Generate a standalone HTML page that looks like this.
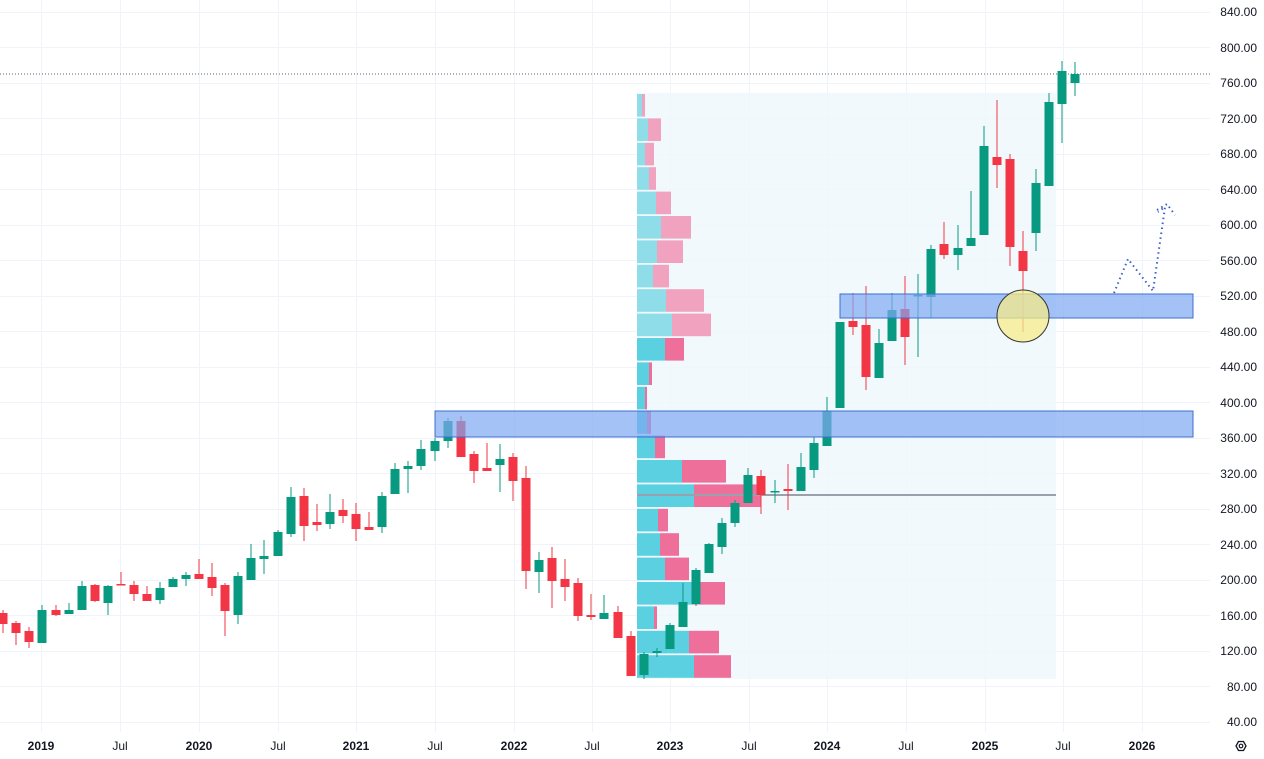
<!DOCTYPE html>
<html><head><meta charset="utf-8"><style>
html,body{margin:0;padding:0;background:#fff;}
svg{display:block;font-family:"Liberation Sans","DejaVu Sans",sans-serif;}
</style></head><body>
<svg id="s" width="1264" height="759" viewBox="0 0 1264 759" xmlns="http://www.w3.org/2000/svg">
<g id="grid" stroke="#f0f3fa" stroke-width="1"></g>
<rect x="637" y="93" width="419" height="586" fill="#eef8fc" opacity="0.8"/>
<g id="vp"></g>
<line x1="637" y1="495" x2="1056" y2="495" stroke="#9aa1ac" stroke-width="2"/>
<line x1="0" y1="74" x2="1210" y2="74" stroke="#5a6473" stroke-width="1" stroke-dasharray="1,2"/>
<g id="candles"></g>
<rect x="435" y="411" width="758" height="26" fill="#7fa8f2" fill-opacity="0.7" stroke="#3d6fcf" stroke-width="1"/>
<rect x="840" y="294" width="353" height="24" fill="#7fa8f2" fill-opacity="0.7" stroke="#3d6fcf" stroke-width="1"/>
<circle cx="1023" cy="316" r="26" fill="#f5eb8a" fill-opacity="0.75" stroke="#333" stroke-width="1"/>
<polyline points="1114,293 1128,259 1153,291 1165,207 1158,212 M0,0" fill="none" stroke="#3d5fc4" stroke-width="2" stroke-dasharray="1.5,3.5"/>
<polyline points="1157,210 1167,204 1175,215" fill="none" stroke="#3d5fc4" stroke-width="2" stroke-dasharray="1.5,3.5"/>
<g font-size="12" fill="#131722" text-anchor="end">
<text x="1257" y="16">840.00</text><text x="1257" y="52">800.00</text><text x="1257" y="87">760.00</text>
<text x="1257" y="123">720.00</text><text x="1257" y="158">680.00</text><text x="1257" y="194">640.00</text>
<text x="1257" y="229">600.00</text><text x="1257" y="265">560.00</text><text x="1257" y="300">520.00</text>
<text x="1257" y="336">480.00</text><text x="1257" y="371">440.00</text><text x="1257" y="407">400.00</text>
<text x="1257" y="442">360.00</text><text x="1257" y="478">320.00</text><text x="1257" y="513">280.00</text>
<text x="1257" y="549">240.00</text><text x="1257" y="584">200.00</text><text x="1257" y="620">160.00</text>
<text x="1257" y="655">120.00</text><text x="1257" y="691">80.00</text><text x="1257" y="726">40.00</text>
</g>
<g font-size="12" fill="#131722" text-anchor="middle">
<text x="41" y="750" font-weight="bold">2019</text><text x="120" y="750">Jul</text>
<text x="199" y="750" font-weight="bold">2020</text><text x="278" y="750">Jul</text>
<text x="356" y="750" font-weight="bold">2021</text><text x="435" y="750">Jul</text>
<text x="514" y="750" font-weight="bold">2022</text><text x="592" y="750">Jul</text>
<text x="670" y="750" font-weight="bold">2023</text><text x="749" y="750">Jul</text>
<text x="827" y="750" font-weight="bold">2024</text><text x="906" y="750">Jul</text>
<text x="985" y="750" font-weight="bold">2025</text><text x="1063" y="750">Jul</text>
<text x="1142" y="750" font-weight="bold">2026</text>
</g>
<polygon points="1236,746 1238.5,741.5 1243.5,741.5 1246,746 1243.5,750.5 1238.5,750.5" fill="none" stroke="#131722" stroke-width="1.3"/>
<circle cx="1241" cy="746" r="1.8" fill="none" stroke="#131722" stroke-width="1.2"/>
</svg>
<script>
var NS="http://www.w3.org/2000/svg";
function el(p,t,a){var e=document.createElementNS(NS,t);for(var k in a)e.setAttribute(k,a[k]);p.appendChild(e);return e;}
var g=document.getElementById('grid');
var ys=[12,47,83,118,154,189,225,260,296,331,367,402,438,473,509,544,580,615,651,686,722];
ys.forEach(function(y){el(g,'line',{x1:0,x2:1210,y1:y+0.5,y2:y+0.5});});
[41,120,199,278,356,435,514,592,670,749,827,906,985,1063,1142].forEach(function(x){el(g,'line',{x1:x+0.5,x2:x+0.5,y1:0,y2:732});});
var vp=document.getElementById('vp');
var rows=[[642,645],[648,661],[645,654],[649,656],[656,671],[661,691],[657,683],[653,669],[666,704],[672,711],
[665,684],[649,652],[645,647],[647,651],[655,665],[682,726],[694,761],[658,668],[660,679],[665,689],[692,725],[654,657],[689,719],[694,731]];
rows.forEach(function(r,i){var y=93+i*24.4;var light=i<10;
el(vp,'rect',{x:637,y:y+1,width:r[0]-637,height:22.6,fill:light?'#8fdde9':'#5bd0e0'});
el(vp,'rect',{x:r[0],y:y+1,width:r[1]-r[0],height:22.6,fill:light?'#f0a2bf':'#ee6f9a'});});
var C=[[3,613,624,610,633,'r'],[16,623,633,621,645,'r'],[29,631,642,627,648,'r'],[42,610,643,605,643,'g'],[56,610,615,605,616,'r'],
[69,610,614,603,614,'g'],[82,586,610,581,610,'g'],[95,585,601,584,602,'r'],[108,586,603,585,615,'g'],[121,584,585,572,585,'r'],
[134,585,594,581,601,'r'],[147,594,601,586,601,'r'],[160,588,600,582,604,'g'],[173,579,587,577,587,'g'],[186,575,579,572,586,'g'],
[199,574,579,559,579,'r'],[212,577,588,563,596,'r'],[225,585,611,583,636,'r'],[238,576,615,572,624,'g'],[251,558,580,544,580,'g'],
[264,556,559,540,574,'g'],[278,532,556,530,556,'g'],[291,497,534,487,537,'g'],[304,496,526,488,541,'r'],[317,522,525,504,531,'r'],
[330,512,524,494,529,'g'],[343,510,516,499,523,'r'],[356,514,529,503,541,'r'],[369,527,530,512,530,'r'],[382,496,527,492,533,'g'],
[395,469,494,463,494,'g'],[408,466,469,461,493,'g'],[421,449,466,440,470,'g'],[435,441,451,438,461,'g'],[448,421,441,418,448,'g'],
[461,421,457,416,457,'r'],[474,454,471,451,483,'r'],[487,468,471,443,471,'r'],[500,459,465,444,492,'g'],[513,457,481,453,501,'r'],
[526,478,571,466,589,'r'],[539,560,572,552,593,'g'],[552,558,581,547,608,'r'],[565,579,587,559,601,'r'],[578,583,616,578,621,'r'],
[591,615,617,594,620,'r'],[604,613,619,595,619,'g'],[618,612,638,606,638,'r'],[631,636,676,631,676,'r'],[644,654,675,652,679,'g'],
[657,651,653,648,657,'g'],[670,625,649,623,649,'g'],[683,602,627,583,627,'g'],[696,570,604,568,606,'g'],[709,544,573,543,573,'g'],
[722,523,547,518,554,'g'],[735,503,523,500,527,'g'],[748,475,503,468,503,'g'],[761,476,495,470,514,'r'],[775,491,492,480,503,'g'],
[788,489,491,464,510,'r'],[801,467,491,453,491,'g'],[814,443,470,437,478,'g'],[827,411,446,397,446,'g'],[840,322,408,322,408,'g'],
[853,321,327,293,335,'r'],[866,325,377,286,390,'r'],[879,343,378,329,378,'g'],[892,310,341,293,341,'g'],[905,309,337,276,365,'r'],
[918,295,296,274,357,'g'],[931,249,297,245,318,'g'],[944,244,255,222,259,'r'],[958,248,255,225,270,'g'],[971,238,246,191,246,'g'],
[984,146,235,126,235,'g'],[997,157,165,100,188,'r'],[1010,159,247,154,266,'r'],[1023,251,271,231,332,'r'],[1036,183,233,169,251,'g'],
[1049,102,186,93,186,'g'],[1062,71,104,61,143,'g'],[1075,74,83,62,96,'g']];
var cg=document.getElementById('candles');
C.forEach(function(c){var col=c[5]=='g'?'#089981':'#f23645';
el(cg,'rect',{x:c[0]-0.5,y:c[3],width:1,height:Math.max(1,c[4]-c[3]),fill:col});
el(cg,'rect',{x:c[0]-4.5,y:c[1],width:9,height:Math.max(1.5,c[2]-c[1]),fill:col});});
</script>
</body></html>
